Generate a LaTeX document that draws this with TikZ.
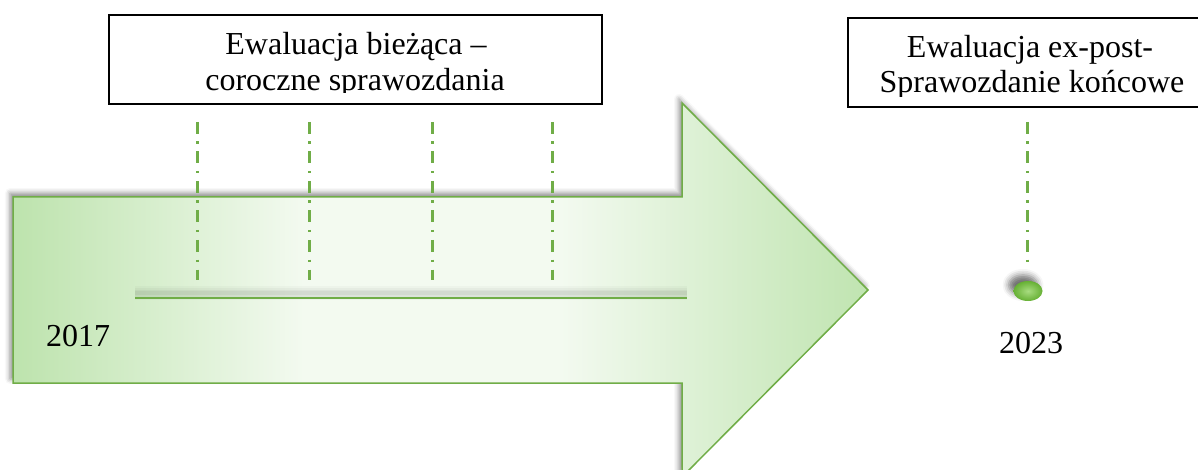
\documentclass[tikz,border=0pt]{standalone}
\usepackage{fontspec}
\setmainfont{Liberation Serif}
\usetikzlibrary{shadows.blur,shapes.geometric}
\definecolor{grn}{HTML}{70AD47}
\definecolor{lgA}{HTML}{BDE3AD}
\definecolor{lgB}{HTML}{F3FAF0}
\definecolor{dotout}{HTML}{66B034}
\definecolor{dotin}{HTML}{A8DC80}
\pgfdeclarehorizontalshading{arrowshade}{100bp}{color(0bp)=(lgA); color(25bp)=(lgA); color(42bp)=(lgB); color(57bp)=(lgB); color(75bp)=(lgA!95!lgB); color(100bp)=(lgA)}
\tikzset{
  txt/.style={inner sep=0pt, font=\fontsize{32}{36}\selectfont},
  labelbox/.style={draw=black, line width=1.5pt, inner sep=0pt, fill=white},
  tick/.style={draw=grn, line width=3pt, dash pattern=on 12pt off 7.5pt on 2.5pt off 7.5pt},
  axisline/.style={draw=grn, line width=2.2pt},
}
\begin{document}
\begin{tikzpicture}[x=1pt,y=-1pt]
\useasboundingbox (0,0) rectangle (1198,470);
\clip (0,0) rectangle (1198,470);
% big arrow
\path[blur shadow={shadow xshift=-3pt,shadow yshift=4pt,shadow blur radius=5pt,shadow opacity=45},
      shading=arrowshade, draw=grn, line width=1.5pt]
  (13,197) -- (682,197) -- (682,103) -- (868,290) -- (682,477) -- (682,383) -- (13,383) -- cycle;
% horizontal axis line with soft shadow
\coordinate (ha) at (135,298);
\coordinate (hb) at (687,298);
\foreach \o/\w in {0.025/14, 0.03/10, 0.035/7, 0.04/4} {
  \draw[black, opacity=\o, line width=\w pt] ([yshift=5pt]ha) -- ([yshift=5pt]hb);
}
\draw[axisline] (ha) -- (hb);
% dash-dot ticks
\coordinate (t1a) at (197,122); \coordinate (t1b) at (197,280);
\coordinate (t2a) at (309,122); \coordinate (t2b) at (309,280);
\coordinate (t3a) at (432,122); \coordinate (t3b) at (432,280);
\coordinate (t4a) at (552,122); \coordinate (t4b) at (552,280);
\coordinate (t5a) at (1027,122); \coordinate (t5b) at (1027,262);
\draw[tick] (t1a) -- (t1b);
\draw[tick] (t2a) -- (t2b);
\draw[tick] (t3a) -- (t3b);
\draw[tick] (t4a) -- (t4b);
\draw[tick] (t5a) -- (t5b);
% end dot
\node[ellipse, minimum width=29pt, minimum height=20pt, inner sep=0pt, inner color=dotin, outer color=dotout,
      blur shadow={shadow xshift=-5pt,shadow yshift=6pt,shadow blur radius=6pt,shadow opacity=55}] (dot) at (1028,291) {};
% years
\node[txt, anchor=base west] (y2017) at (46,346) {2017};
\node[txt, anchor=base west] (y2023) at (999,353) {2023};
% box 1
\node[labelbox, minimum width=493pt, minimum height=89pt] (box1) at (355.5,59.5) {};
\begin{scope}
\clip (110,16) rectangle (601,93);
\node[txt, anchor=base] (b1l1) at (356,55) {Ewaluacja bieżąca –};
\node[txt, anchor=base] (b1l2) at (355,90.5) {coroczne sprawozdania};
\end{scope}
% box 2
\node[labelbox, minimum width=372pt, minimum height=89pt] (box2) at (1034,62.5) {};
\begin{scope}
\clip (849,19) rectangle (1198,97);
\node[txt, anchor=base] (b2l1) at (1030,57.5) {Ewaluacja ex-post-};
\node[txt, anchor=base] (b2l2) at (1032,93) {Sprawozdanie końcowe};
\end{scope}
\end{tikzpicture}
\end{document}
